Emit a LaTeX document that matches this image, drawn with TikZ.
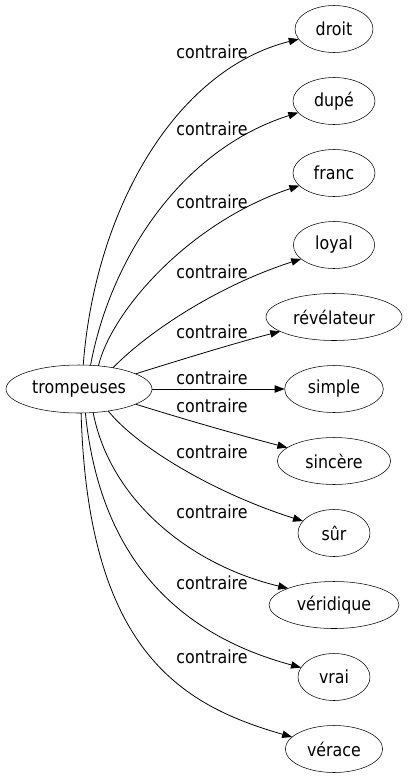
\documentclass[tikz,border=0pt]{standalone}
\usepackage{fontspec}
\setmainfont{DejaVu Sans}[FakeStretch=0.88]
\usetikzlibrary{arrows.meta,shapes.geometric}
\begin{document}
\begin{tikzpicture}[x=0.75pt,y=-0.75pt,
  word/.style={draw,ellipse,inner sep=0pt,outer sep=0pt,minimum height=35.25pt,font=\fontsize{13.5pt}{15pt}\selectfont},
  lbl/.style={inner sep=0pt,font=\fontsize{13.5pt}{15pt}\selectfont},
  edge/.style={-{Triangle[length=7.5pt,width=5.5pt]},line width=0.6pt}]
\useasboundingbox (0,0) rectangle (408,779);
\node[word,minimum width=109.5pt,minimum height=36pt] (t) at (79,389) {trompeuses};
\node[word,minimum width=58.5pt] (n1) at (334,29) {droit};
\node[word,minimum width=61.5pt] (n2) at (334,101) {dupé};
\node[word,minimum width=61.5pt] (n3) at (334,173) {franc};
\node[word,minimum width=61pt] (n4) at (334,245) {loyal};
\node[word,minimum width=102pt] (n5) at (334,317) {révélateur};
\node[word,minimum width=74pt] (n6) at (334,389) {simple};
\node[word,minimum width=85pt] (n7) at (334,461) {sincère};
\node[word,minimum width=54pt] (n8) at (334,533) {sûr};
\node[word,minimum width=97.5pt] (n9) at (334,605) {véridique};
\node[word,minimum width=54pt] (n10) at (334,677) {vrai};
\node[word,minimum width=73pt] (n11) at (334,749) {vérace};
\node[lbl] (l1) at (212,52) {contraire};
\node[lbl] (l2) at (212,129) {contraire};
\node[lbl] (l3) at (212,202) {contraire};
\node[lbl] (l4) at (212,272) {contraire};
\node[lbl] (l5) at (212,332) {contraire};
\node[lbl] (l6) at (212,378) {contraire};
\node[lbl] (l7) at (212,406) {contraire};
\node[lbl] (l8) at (212,452) {contraire};
\node[lbl] (l9) at (212,512) {contraire};
\node[lbl] (l10) at (212,583) {contraire};
\node[lbl] (l11) at (212,657) {contraire};
\draw[edge] (t.80.5) .. controls (95,210) and (175,70) .. (n1.196.6);
\draw[edge] (t.64.4) .. controls (110,260) and (180,150) .. (n2.198.9);
\draw[edge] (t.50.7) .. controls (112,310) and (190,222) .. (n3.200.7);
\draw[edge] (t.32) .. controls (150,330) and (220,285) .. (n4.203);
\draw[edge] (t.15.4) .. controls (180,360) and (235,343) .. (n5.195.8);
\draw[edge] (t.east) -- (n6.west);
\draw[edge] (t.-15.4) .. controls (180,418) and (235,434) .. (n7.164);
\draw[edge] (t.-37.2) .. controls (140,450) and (220,495) .. (n8.159);
\draw[edge] (t.-59.3) .. controls (110,500) and (190,565) .. (n9.160);
\draw[edge] (t.-75.9) .. controls (100,560) and (180,635) .. (n10.164);
\draw[edge] (t.-85) .. controls (88,650) and (180,705) .. (n11.164.7);
\end{tikzpicture}
\end{document}
